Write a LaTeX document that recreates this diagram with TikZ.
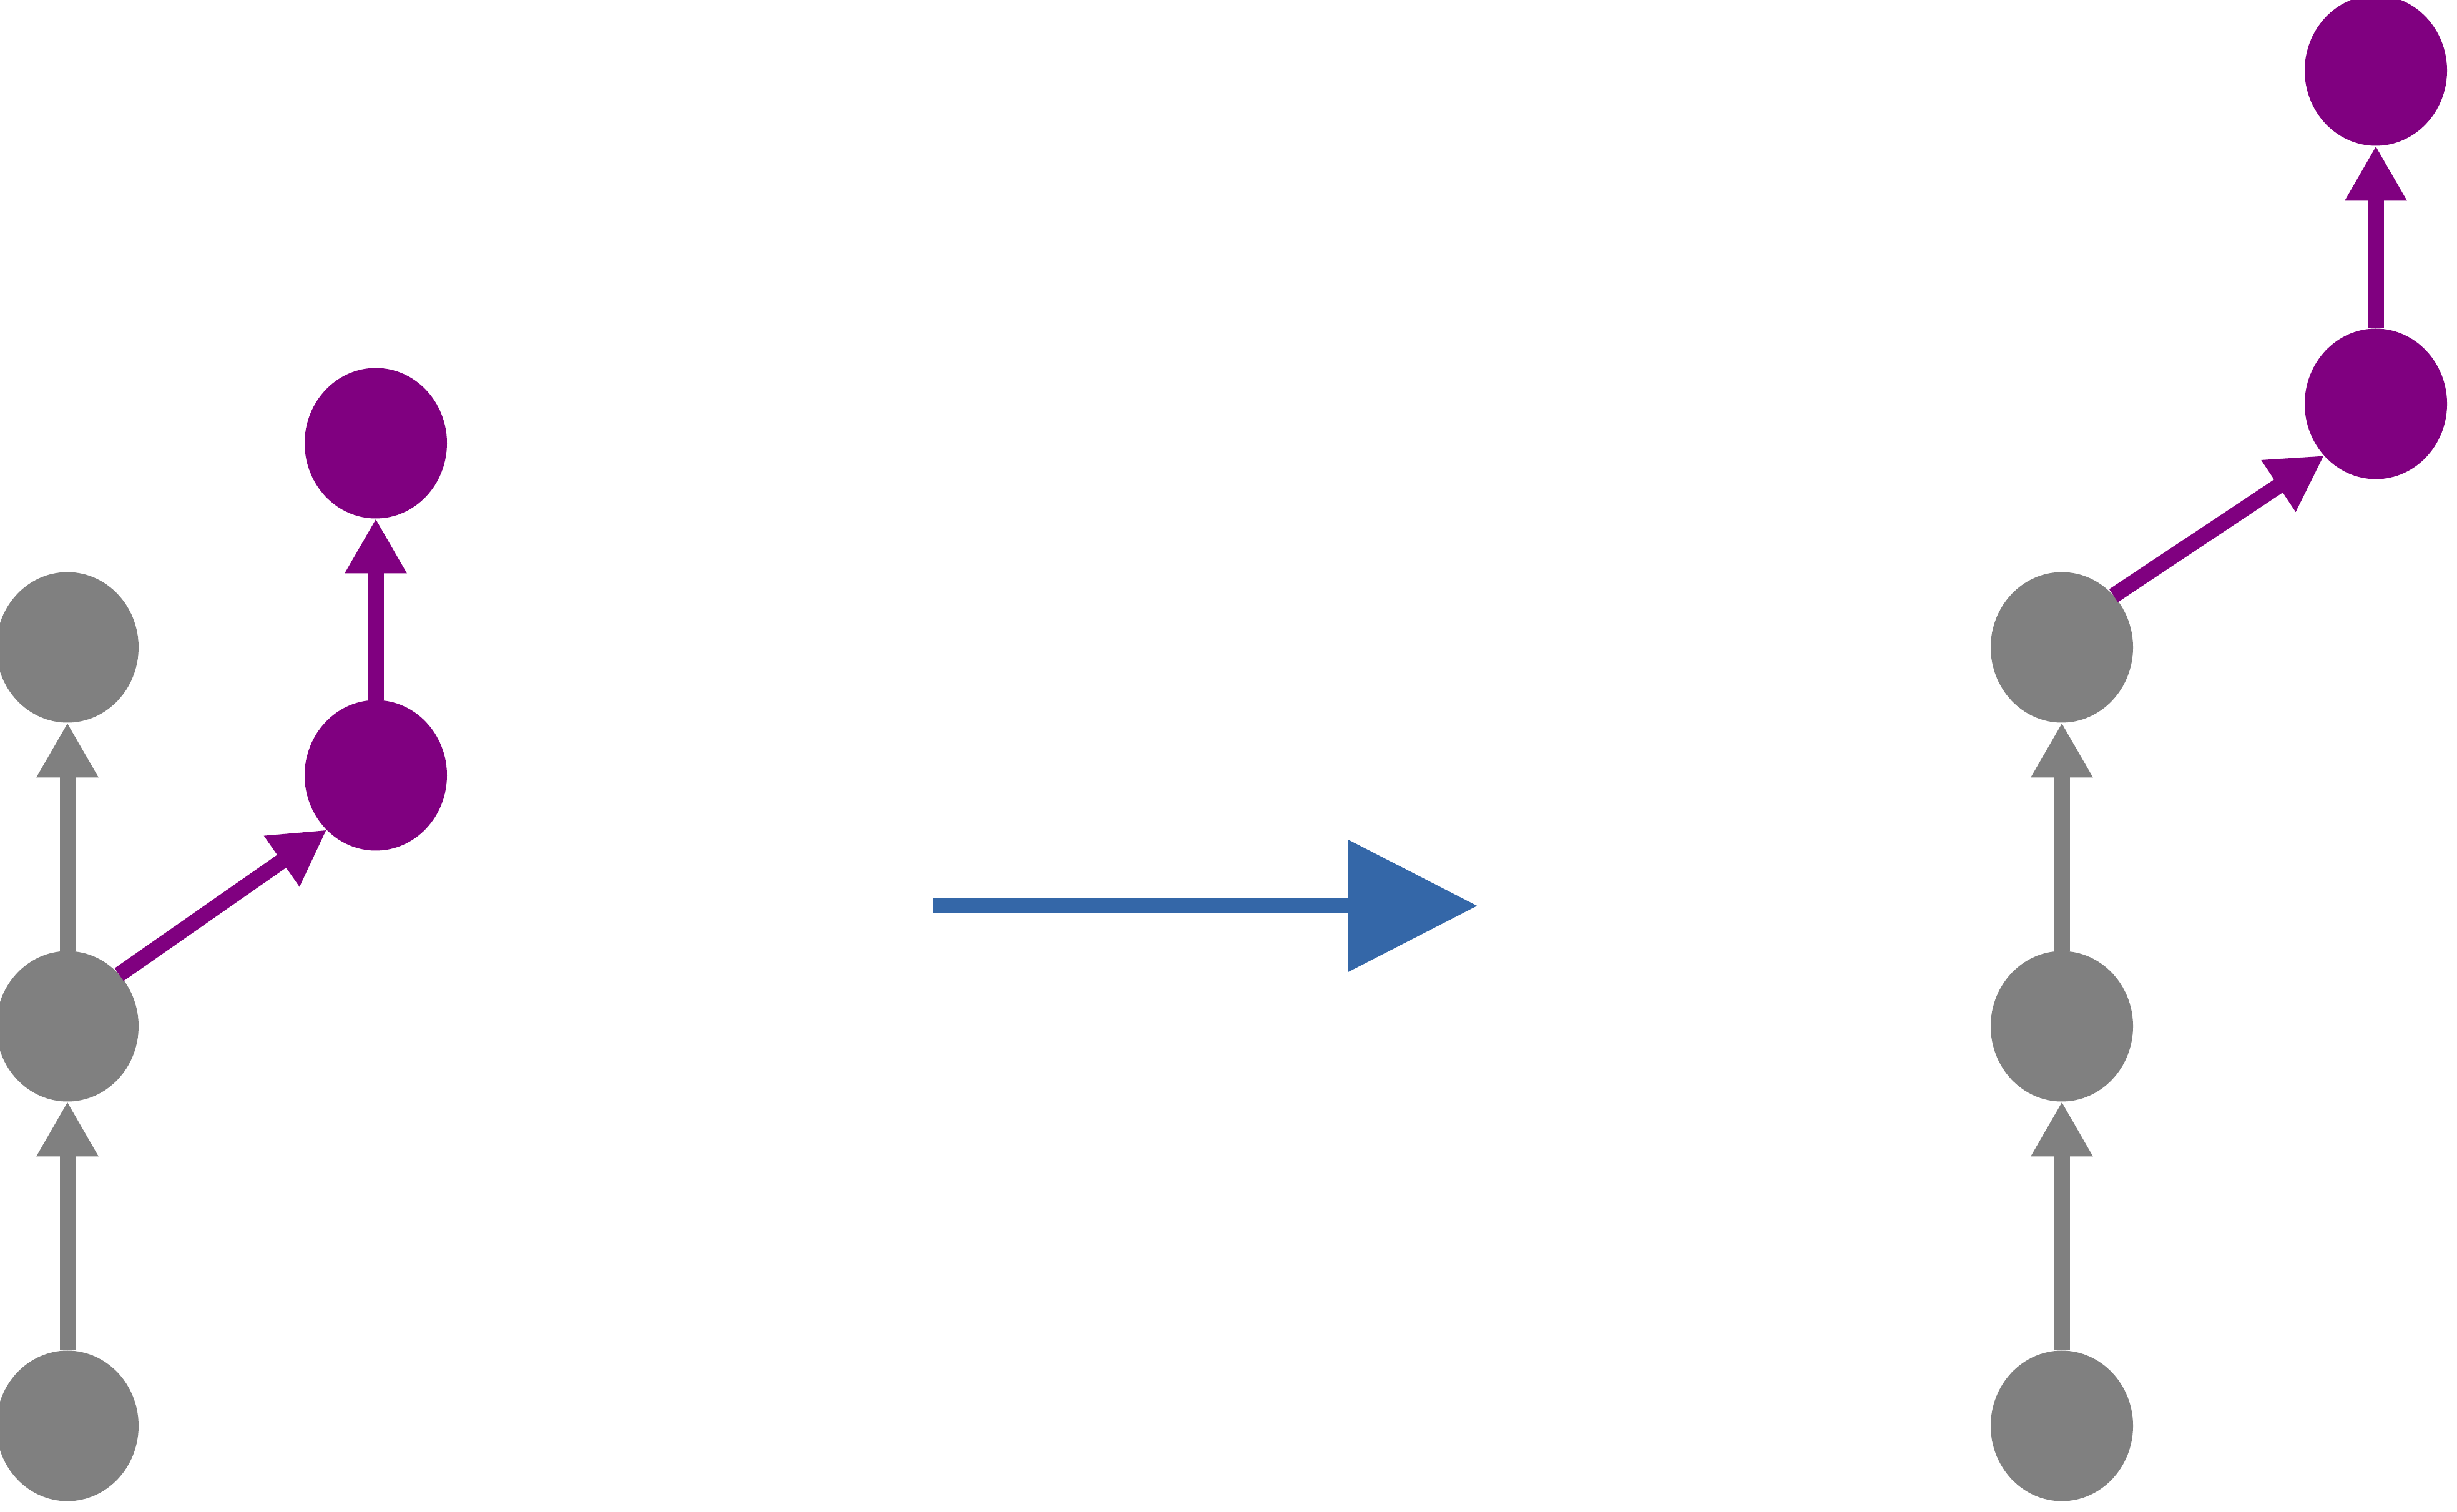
\documentclass[tikz,border=0pt]{standalone}
\usetikzlibrary{arrows.meta,shapes.geometric}
\definecolor{nodegray}{RGB}{128,128,128}
\definecolor{nodepurple}{RGB}{128,0,128}
\definecolor{stepblue}{RGB}{52,103,168}
\tikzset{
    vertex/.style={ellipse, minimum width=2.28cm, minimum height=2.41cm, inner sep=0pt, outer sep=0pt},
    gvertex/.style={vertex, fill=nodegray},
    pvertex/.style={vertex, fill=nodepurple},
    edge/.style={line width=0.25cm, -{Triangle[length=0.88cm, width=0.93cm]}},
    gedge/.style={edge, draw=nodegray, fill=nodegray},
    pedge/.style={edge, draw=nodepurple, fill=nodepurple},
    bigarrow/.style={line width=0.25cm, draw=stepblue, -{Triangle[length=2.08cm, width=2.06cm, fill=stepblue]}}
}
\begin{document}
\begin{tikzpicture}
        \useasboundingbox (0, 0) rectangle (39.36, 24.21);
        \clip (0, 0) rectangle (39.36, 24.21);

        \node[gvertex] (LG1) at (1.08, 1.37) {};
        \node[gvertex] (LG2) at (1.08, 7.77) {};
        \node[gvertex] (LG3) at (1.08, 13.84) {};
        \node[pvertex] (LP1) at (6.02, 11.79) {};
        \node[pvertex] (LP2) at (6.02, 17.11) {};

        \node[gvertex] (RG1) at (33.03, 1.37) {};
        \node[gvertex] (RG2) at (33.03, 7.77) {};
        \node[gvertex] (RG3) at (33.03, 13.84) {};
        \node[pvertex] (RP1) at (38.06, 17.74) {};
        \node[pvertex] (RP2) at (38.06, 23.08) {};

        \coordinate (from) at (14.94, 9.70);
        \coordinate (to) at (23.67, 9.70);

        \draw[gedge] (LG1) -- (LG2);
        \draw[gedge] (LG2) -- (LG3);
        \draw[pedge] (LG2.45) -- (LP1.228);
        \draw[pedge] (LP1) -- (LP2);

        \draw[gedge] (RG1) -- (RG2);
        \draw[gedge] (RG2) -- (RG3);
        \draw[pedge] (RG3.45) -- (RP1.225);
        \draw[pedge] (RP1) -- (RP2);

        \draw[bigarrow] (from) -- (to);
    \end{tikzpicture}
\end{document}
